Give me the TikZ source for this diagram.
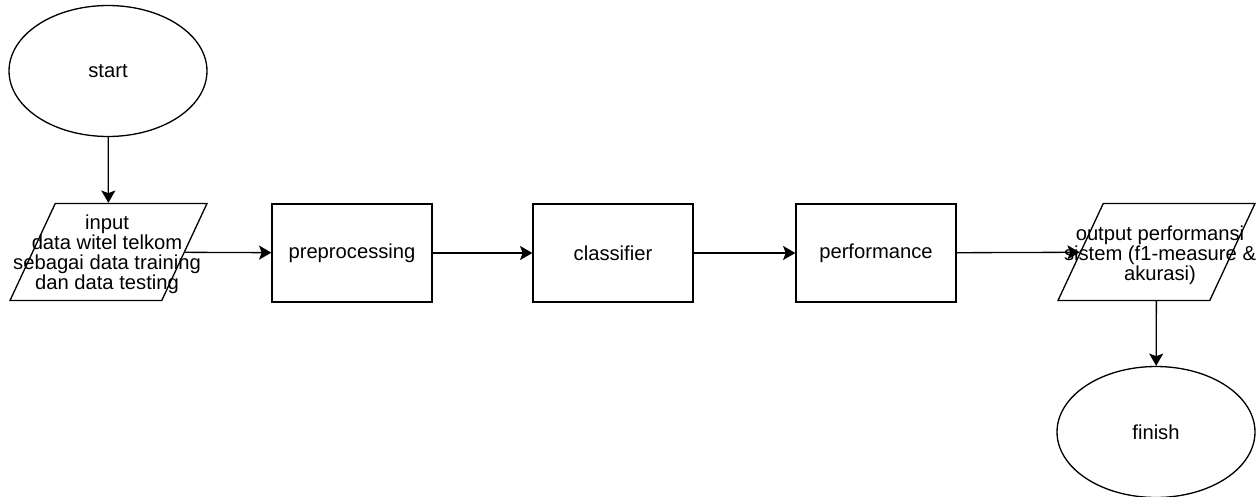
\documentclass[tikz,border=0pt]{standalone}
\usepackage{fontspec}
\setmainfont{Liberation Sans}
\usetikzlibrary{positioning}
\usetikzlibrary{shapes.geometric}
\usetikzlibrary{arrows.meta}

\begin{document}
\begin{tikzpicture}[x=0.02cm,y=-0.02cm,->,>={Stealth[length=7pt,width=8pt,inset=1.5pt]},line width=0.75pt,
	font=\fontsize{11.5}{11.4}\selectfont,
	terminal/.style={ellipse,draw,minimum width=3.96cm,minimum height=2.62cm,inner sep=0pt},
	proses/.style={rectangle,draw,minimum width=3.2cm,minimum height=1.96cm},
	io/.style={trapezium,draw,trapezium left angle=67,trapezium right angle=113,trapezium stretches=true,minimum width=3.94cm,minimum height=1.94cm,inner sep=2pt},
	teks/.style={align=center,inner sep=0pt}]
	\useasboundingbox (0,0) rectangle (1258,497);
	\node[terminal] (start) at (108,71) {start};
	\node[io] (in) at (108.5,252) {};
	\node[teks] (in-t) at (107,254) {input\\data witel telkom\\sebagai data training\\dan data testing};
	\node[proses] (pre) at (352,253) {preprocessing};
	\node[proses] (cls) at (613,253) {classifier};
	\node[proses] (perf) at (876,253) {performance};
	\node[io] (out) at (1156.5,252) {};
	\node[teks] (out-t) at (1160,255) {output performansi\\sistem (f1-measure \&\\akurasi)};
	\node[terminal] (fin) at (1156,432) {finish};

	\draw (start) -- (in);
	\draw (in) -- (pre);
	\draw (pre) -- (cls);
	\draw (cls) -- (perf);
	\draw (perf) -- (out);
	\draw (out) -- (fin);
\end{tikzpicture}
\end{document}
